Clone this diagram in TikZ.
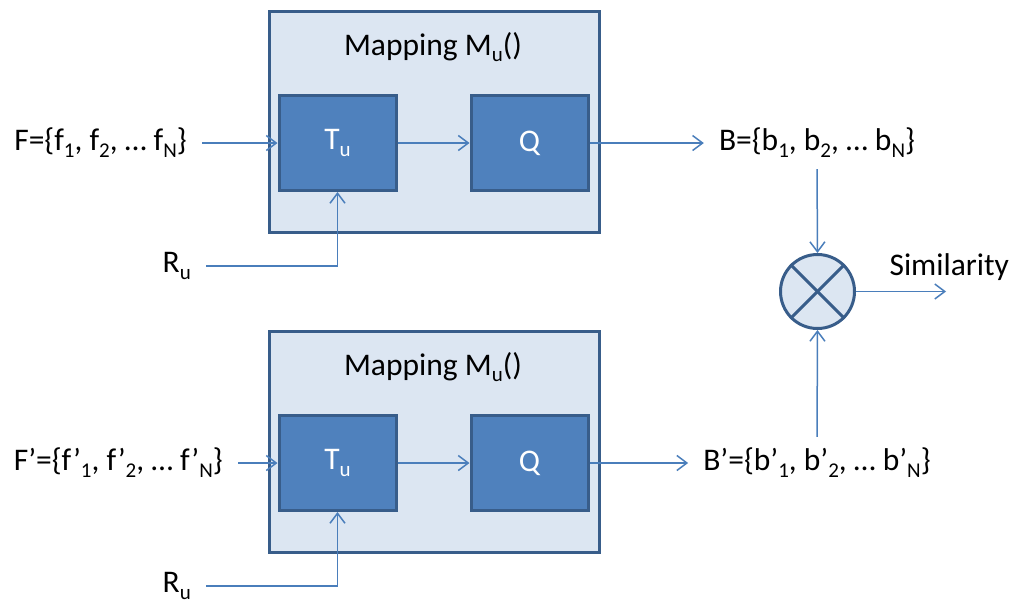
\documentclass[tikz,border=0pt]{standalone}
\usepackage{fontspec}
\setmainfont{Carlito}
\usetikzlibrary{arrows.meta}
\definecolor{lineblue}{HTML}{4A7EBB}
\definecolor{boxblue}{HTML}{4F81BD}
\definecolor{edgeblue}{HTML}{385D8A}
\definecolor{paleblue}{HTML}{DCE6F2}
\newcommand{\sub}[1]{\raisebox{-0.22em}{\fontsize{21}{21}\selectfont #1}}

\begin{document}
\begin{tikzpicture}[x=1pt,y=-1pt,font=\fontsize{31.5}{38}\selectfont,
        mapbox/.style={draw=edgeblue,fill=paleblue,line width=3pt,minimum width=330pt,minimum height=221pt,inner sep=0pt},
        block/.style={draw=edgeblue,fill=boxblue,line width=3pt,minimum width=117pt,minimum height=95pt,text=white,inner sep=0pt},
        mixer/.style={circle,draw=edgeblue,fill=paleblue,line width=3pt,minimum size=74pt,inner sep=0pt},
        iolbl/.style={inner xsep=15pt,inner ysep=11pt},
        conn/.style={draw=lineblue,line width=1.5pt,-{Straight Barb[length=10pt,width=15pt]}}]
        \useasboundingbox (0,0) rectangle (1011,603);
        \node[mapbox] (map1) at (434,121.5) {};
        \node[anchor=base] (title1) at (433,55) {Mapping M\sub{u}()};
        \node[block] (T1) at (337.5,143) {T\sub{u}};
        \node[block] (Q1) at (529.5,143) {Q};
        \node[iolbl,anchor=east] (F1) at (202,143) {F=\{f\sub{1}, f\sub{2}, … f\sub{N}\}};
        \node[iolbl,anchor=east] (R1) at (206,266) {R\sub{u}};
        \node[iolbl] (B1) at (817,143) {B=\{b\sub{1}, b\sub{2}, … b\sub{N}\}};
        \node[mapbox] (map2) at (434,441.5) {};
        \node[anchor=base] (title2) at (433,375) {Mapping M\sub{u}()};
        \node[block] (T2) at (337.5,463) {T\sub{u}};
        \node[block] (Q2) at (529.5,463) {Q};
        \node[iolbl,anchor=east] (F2) at (238,463) {F'=\{f'\sub{1}, f'\sub{2}, … f'\sub{N}\}};
        \node[iolbl,anchor=east] (R2) at (206,586) {R\sub{u}};
        \node[iolbl] (B2) at (817,463) {B'=\{b'\sub{1}, b'\sub{2}, … b'\sub{N}\}};
        \node[mixer] (mix) at (817.5,291.5) {};
        \draw[edgeblue,line width=3pt] (mix.north west) -- (mix.south east);
        \draw[edgeblue,line width=3pt] (mix.north east) -- (mix.south west);
        \node[anchor=base west] (sim) at (886,275) {Similarity};
        \coordinate (out) at (946,291.5);
        \draw[conn] (F1.east) -- (T1.west);
        \draw[conn] (T1.east) -- (Q1.west);
        \draw[conn] (Q1.east) -- (B1.west);
        \draw[conn] (R1.east) -| (T1.south);
        \draw[conn] (F2.east) -- (T2.west);
        \draw[conn] (T2.east) -- (Q2.west);
        \draw[conn] (Q2.east) -- (B2.west);
        \draw[conn] (R2.east) -| (T2.south);
        \draw[conn] (B1.south) -- (mix.north);
        \draw[conn] (B2.north) -- (mix.south);
        \draw[conn] (mix.east) -- (out);
    \end{tikzpicture}
\end{document}
